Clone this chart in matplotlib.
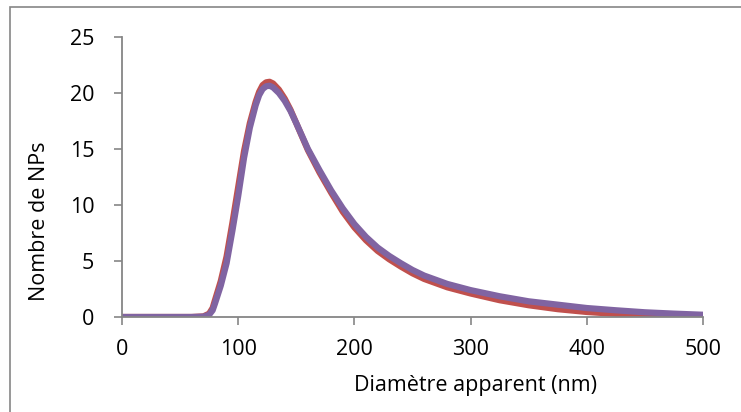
import numpy as np
import matplotlib.pyplot as plt
from matplotlib.patches import Rectangle

# diameters (nm) and counts
diam = [0, 60, 70, 75, 78, 80, 85, 90, 95, 100, 105, 110, 115, 118, 121, 124,
        127, 130, 135, 140, 145, 150, 160, 170, 180, 190, 200, 210, 220, 230,
        240, 250, 260, 280, 300, 325, 350, 375, 400, 425, 450, 475, 500]
red = [0, 0, 0.05, 0.3, 0.8, 1.5, 3.2, 5.4, 8.4, 11.6, 14.8, 17.3, 19.2, 20.1,
       20.7, 20.95, 21.0, 20.85, 20.3, 19.5, 18.5, 17.3, 14.9, 12.9, 11.1, 9.4,
       8.0, 6.85, 5.9, 5.15, 4.5, 3.9, 3.4, 2.65, 2.1, 1.5, 1.05, 0.7, 0.45,
       0.28, 0.15, 0.07, 0.03]
purple = [0, 0, 0.03, 0.2, 0.6, 1.2, 2.8, 4.8, 7.7, 10.8, 14.2, 16.9, 18.9, 19.8,
          20.35, 20.6, 20.65, 20.5, 20.0, 19.3, 18.4, 17.3, 15.0, 13.1, 11.3, 9.7,
          8.3, 7.15, 6.2, 5.45, 4.8, 4.2, 3.7, 2.95, 2.4, 1.85, 1.4, 1.1, 0.8,
          0.6, 0.42, 0.3, 0.2]

plt.rcParams['font.family'] = ['Open Sans', 'DejaVu Sans']
gray = '#868686'

fig = plt.figure(figsize=(7.41, 4.12), dpi=100)
ax = fig.add_axes([122 / 741, 1 - 317 / 412, (703 - 122) / 741, (317 - 37) / 412])

ax.plot(diam, red, color='#C0504D', lw=4.5, solid_capstyle='butt', solid_joinstyle='round')
ax.plot(diam, purple, color='#8064A2', lw=4.5, solid_capstyle='butt', solid_joinstyle='round')

ax.set_xlim(0, 500)
ax.set_ylim(0, 25)
ax.set_xticks(range(0, 501, 100))
ax.set_yticks(range(0, 26, 5))
ax.tick_params(direction='out', length=6, width=1.2, color=gray, labelsize=15.5)
ax.tick_params(axis='x', pad=10)
ax.tick_params(axis='y', pad=14)
for s in ['top', 'right']:
    ax.spines[s].set_visible(False)
for s in ['left', 'bottom']:
    ax.spines[s].set_color(gray)
    ax.spines[s].set_linewidth(1.3)

fig.text(476 / 741, 1 - 385 / 412, 'Diamètre apparent (nm)', ha='center', va='center', fontsize=15.5)
fig.text(40 / 741, 1 - 221 / 412, 'Nombre de NPs', ha='center', va='center', rotation=90, fontsize=15.5)

# chart frame (only top and left edges visible)
fig.patches.append(Rectangle((10 / 741, -0.2), 2, 1.2 - 7 / 412, transform=fig.transFigure,
                             fill=False, edgecolor=gray, lw=1.2))

fig.savefig('out.png', dpi=100)
